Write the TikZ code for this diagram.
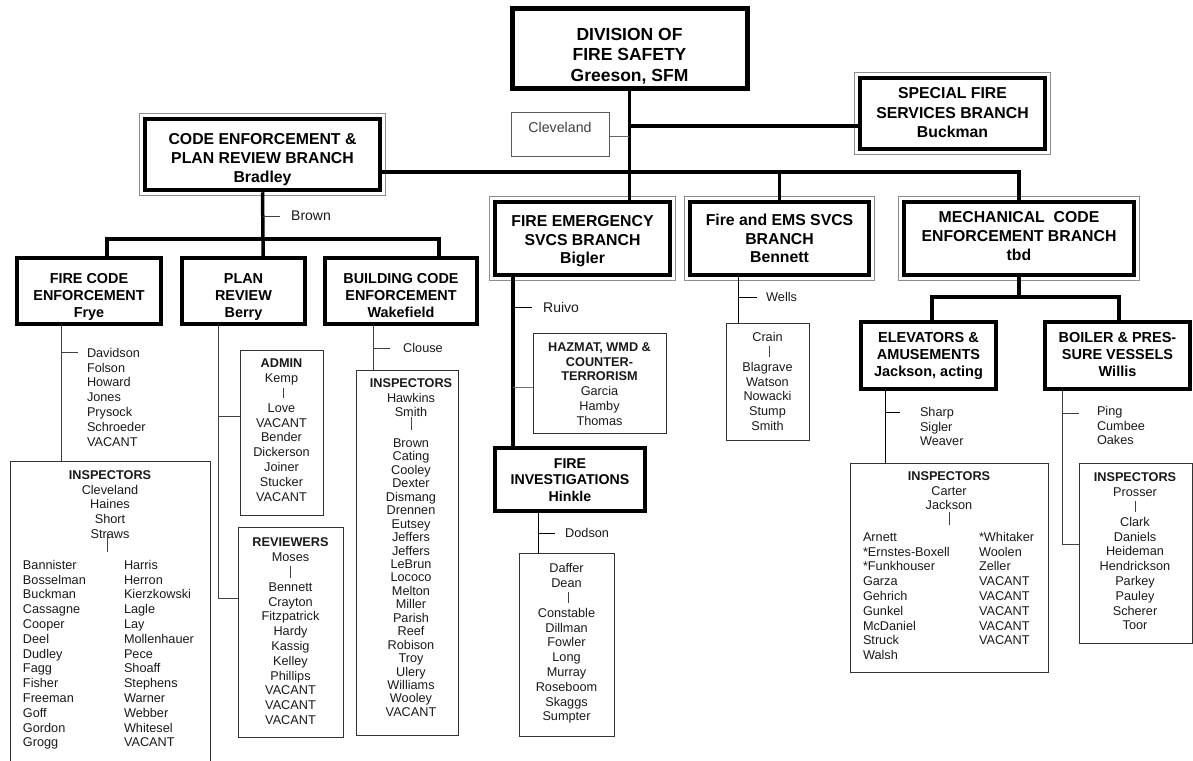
\documentclass[tikz,border=0pt]{standalone}
\usepackage{fontspec}
\setmainfont{Liberation Sans}
\usetikzlibrary{calc}
\newcommand\ctab[1]{\begin{tabular}{@{}c@{}}#1\end{tabular}}
\newcommand\ltab[1]{\begin{tabular}{@{}l@{}}#1\end{tabular}}
\newcommand\nmfont{\fontsize{12.7}{14.8}\selectfont}
\newcommand\brfont{\fontsize{15.8}{19}\selectfont\bfseries}
\newcommand\sbfont{\fontsize{14.4}{17}\selectfont\bfseries}
\newcommand\dblframe[1]{\draw[draw=black!45, line width=1.2pt] ([shift={(-3pt,3pt)}]#1.north west) rectangle ([shift={(3pt,-3pt)}]#1.south east);}
\tikzset{
  bx/.style={draw=black, line width=4.5pt, inner sep=0pt},
  tb/.style={draw=black!80, line width=1pt, inner sep=0pt},
  conn/.style={draw=black, line width=3.5pt},
  tc/.style={draw=black!75, line width=1pt},
  hd/.style={anchor=north, inner sep=0pt, outer sep=0pt, text=black},
  nm/.style={anchor=north, inner sep=0pt, outer sep=0pt, text=black!90, font=\nmfont},
  nml/.style={nm, anchor=north west},
  lbl/.style={anchor=west, inner sep=0pt, text=black!90, font=\nmfont},
}
\begin{document}
\begin{tikzpicture}[x=1pt,y=-1pt]
\useasboundingbox (0,0) rectangle (1193,760);

% ---------- boxes ----------
\node[bx, line width=5pt, minimum width=235pt, minimum height=79pt] (div) at (629.5,48.5) {};
\node[tb, draw=black!65, minimum width=98pt, minimum height=44pt] (cleve) at (560,134) {};
\node[bx, minimum width=185pt, minimum height=71pt] (spec) at (952.5,113.5) {};
\node[bx, minimum width=235pt, minimum height=71pt] (code) at (262.5,154.5) {};
\node[bx, minimum width=175pt, minimum height=73pt] (femerg) at (582.5,238.5) {};
\node[bx, minimum width=179pt, minimum height=73pt] (ems) at (779.5,238.5) {};
\node[bx, minimum width=230pt, minimum height=73pt] (mech) at (1019,238.5) {};
\dblframe{spec}
\dblframe{code}
\dblframe{femerg}
\dblframe{ems}
\dblframe{mech}

\node[bx, minimum width=144pt, minimum height=66pt] (fc) at (89,291) {};
\node[bx, minimum width=123pt, minimum height=66pt] (pr) at (243.5,291) {};
\node[bx, minimum width=152pt, minimum height=66pt] (bc) at (401,291) {};
\node[bx, minimum width=150pt, minimum height=63pt] (finv) at (570,479.5) {};
\node[bx, minimum width=135pt, minimum height=67pt] (elev) at (928.5,355.5) {};
\node[bx, minimum width=145pt, minimum height=67pt] (boil) at (1117.5,355.5) {};

\node[tb, minimum width=200pt, minimum height=314pt] (fcinsp) at (110,618) {};
\node[tb, minimum width=83pt, minimum height=165pt] (admin) at (281.5,432.5) {};
\node[tb, minimum width=105pt, minimum height=210pt] (rev) at (290.5,632) {};
\node[tb, minimum width=102pt, minimum height=365pt] (binsp) at (407,552.5) {};
\node[tb, minimum width=133pt, minimum height=100pt] (hazmat) at (599.5,383) {};
\node[tb, minimum width=95pt, minimum height=183pt] (dod) at (566.5,644.5) {};
\node[tb, minimum width=83pt, minimum height=117pt] (crain) at (767.5,381.5) {};
\node[tb, minimum width=198pt, minimum height=209pt] (elinsp) at (949,567.5) {};
\node[tb, minimum width=113pt, minimum height=180pt] (boinsp) at (1135.5,553) {};

% ---------- box titles ----------
\node[hd, font=\fontsize{17.5}{20.5}\selectfont\bfseries] (divt) at (629.5,26) {\ctab{DIVISION OF\\FIRE SAFETY\\Greeson, SFM}};
\node[hd, text=black!75, font=\fontsize{14.2}{17}\selectfont] (clevet) at (560,120.2) {\ctab{Cleveland}};
\node[hd, font=\fontsize{15.8}{19.5}\selectfont\bfseries] (spect) at (952.5,85) {\ctab{SPECIAL FIRE\\SERVICES BRANCH\\Buckman}};
\node[hd, font=\brfont] (codet) at (262.5,131.4) {\ctab{CODE ENFORCEMENT \&\\PLAN REVIEW BRANCH\\Bradley}};
\node[hd, font=\fontsize{15.8}{18.5}\selectfont\bfseries] (femergt) at (582.5,213.7) {\ctab{FIRE EMERGENCY\\SVCS BRANCH\\Bigler}};
\node[hd, font=\fontsize{15.8}{18.5}\selectfont\bfseries] (emst) at (779.5,212.7) {\ctab{Fire and EMS SVCS\\BRANCH\\Bennett}};
\node[hd, font=\brfont] (mecht) at (1019,209.4) {\ctab{MECHANICAL~~CODE\\ENFORCEMENT BRANCH\\tbd}};
\node[hd, font=\sbfont] (fct) at (89,271.3) {\ctab{FIRE CODE\\ENFORCEMENT\\Frye}};
\node[hd, font=\sbfont] (prt) at (243.5,271.3) {\ctab{PLAN\\REVIEW\\Berry}};
\node[hd, font=\sbfont] (bct) at (401,271.3) {\ctab{BUILDING CODE\\ENFORCEMENT\\Wakefield}};
\node[hd, font=\fontsize{14.2}{16.5}\selectfont\bfseries] (finvt) at (570,456.5) {\ctab{FIRE\\INVESTIGATIONS\\Hinkle}};
\node[hd, font=\fontsize{14.5}{17}\selectfont\bfseries] (elevt) at (928.5,330.3) {\ctab{ELEVATORS \&\\AMUSEMENTS\\Jackson, acting}};
\node[hd, font=\fontsize{14.5}{17}\selectfont\bfseries] (boilt) at (1117.5,330.3) {\ctab{BOILER \& PRES-\\SURE VESSELS\\Willis}};

% ---------- main connectors ----------
\coordinate (jmain) at (629,172);
\coordinate (jspec) at (629,126);
\coordinate (jcle) at (629,136);
\draw[conn] (div.south) -- (div.south |- femerg.north);
\draw[conn] (jspec) -- (spec.west |- jspec);
\draw[tc, draw=black!60] (cleve.east |- jcle) -- (jcle);
\draw[conn] (code.east |- jmain) -- (mech.north |- jmain) -- (mech.north);
\draw[conn] (ems.north |- jmain) -- (ems.north);

% code enforcement branch
\coordinate (jbrown) at (263,239);
\coordinate (jfc) at (107,239);
\coordinate (jbc) at (439,239);
\draw[conn] (code.south) -- (jbrown) -- (jbrown |- pr.north);
\draw[conn] (jfc |- fc.north) -- (jfc) -- (jbc) -- (jbc |- bc.north);
\node[lbl, font=\fontsize{14}{16}\selectfont] (brown) at (291,216) {Brown};
\coordinate (brownj) at (263,216);
\draw[tc, shorten >=11pt] (brownj) -- (brown.west);

% fire code enforcement
\coordinate (fcx) at (61,0);
\draw[tc] (fcx |- fc.south) -- (fcx |- fcinsp.north);
\node[nml] (fclist) at (87,347) {\ltab{Davidson\\Folson\\Howard\\Jones\\Prysock\\Schroeder\\VACANT}};
\coordinate (fcj) at (61,352);
\draw[tc] (fcj) -- ++(17,0);
\node[nm] (fchd) at (110,469) {\ctab{\textbf{INSPECTORS}\\Cleveland\\Haines\\Short\\Straws}};
\node[nml] (fcc1) at (23,559) {\ltab{Bannister\\Bosselman\\Buckman\\Cassagne\\Cooper\\Deel\\Dudley\\Fagg\\Fisher\\Freeman\\Goff\\Gordon\\Grogg}};
\node[nml] (fcc2) at (124,559) {\ltab{Harris\\Herron\\Kierzkowski\\Lagle\\Lay\\Mollenhauer\\Pece\\Shoaff\\Stephens\\Warner\\Webber\\Whitesel\\VACANT}};
\draw[tc, shorten <=-10pt, shorten >=7pt] ([xshift=-3pt]fchd.south) -- ([xshift=-3pt]fchd.south |- fcc1.north);

% plan review
\coordinate (prj1) at (218,416);
\coordinate (prj2) at (218,598);
\draw[tc] (prj1 |- pr.south) -- (prj2) -- (prj2 -| rev.west);
\draw[tc] (prj1) -- (prj1 -| admin.west);
\node[nm] (adhd) at (281.5,357) {\ctab{\textbf{ADMIN}\\Kemp}};
\node[nm] (adlist) at (281.5,402) {\ctab{Love\\VACANT\\Bender\\Dickerson\\Joiner\\Stucker\\VACANT}};
\draw[tc, shorten <=1.4pt, shorten >=4pt] ([xshift=1.5pt]adhd.south) -- ([xshift=1.5pt]adhd.south |- adlist.north);
\node[nm] (rvhd) at (290.5,536) {\ctab{\textbf{REVIEWERS}\\Moses}};
\node[nm] (rvlist) at (290.5,581) {\ctab{Bennett\\Crayton\\Fitzpatrick\\Hardy\\Kassig\\Kelley\\Phillips\\VACANT\\VACANT\\VACANT}};
\draw[tc, shorten <=0pt, shorten >=3pt] (rvhd.south) -- (rvhd.south |- rvlist.north);

% building code
\coordinate (bcx) at (373,0);
\draw[tc] (bcx |- bc.south) -- (bcx |- binsp.north);
\node[lbl] (clouse) at (403,348) {Clouse};
\coordinate (clj) at (373,348);
\draw[tc, shorten >=13pt] (clj) -- (clouse.west);
\node[nm] (bihd) at (411,377) {\ctab{\textbf{INSPECTORS}\\Hawkins\\Smith}};
\node[nm, font=\fontsize{12.7}{13.45}\selectfont] (bilist) at (411,438) {\ctab{Brown\\Cating\\Cooley\\Dexter\\Dismang\\Drennen\\Eutsey\\Jeffers\\Jeffers\\LeBrun\\Lococo\\Melton\\Miller\\Parish\\Reef\\Robison\\Troy\\Ulery\\Williams\\Wooley\\VACANT}};
\draw[tc, shorten <=-4.4pt, shorten >=8pt] (bihd.south) -- (bihd.south |- bilist.north);

% fire emergency
\coordinate (fex) at (513,0);
\draw[conn] (fex |- femerg.south) -- (fex |- finv.north);
\node[lbl, font=\fontsize{14}{16}\selectfont] (ruivo) at (543,307) {Ruivo};
\coordinate (ruj) at (513,307);
\draw[tc, draw=black, shorten >=11pt] (ruj) -- (ruivo.west);
\coordinate (hzj) at (513,387);
\draw[tc, draw=black!55] (hzj) -- (hzj -| hazmat.west);
\node[nm] (hztxt) at (599.5,341) {\ctab{\textbf{HAZMAT, WMD \&}\\\textbf{COUNTER-}\\\textbf{TERRORISM}\\Garcia\\Hamby\\Thomas}};

% fire investigations
\coordinate (dx) at (538,0);
\draw[tc, draw=black] (dx |- finv.south) -- (dx |- dod.north);
\node[lbl] (dodson) at (565,533) {Dodson};
\coordinate (doj) at (538,533);
\draw[tc, draw=black, shorten >=10pt] (doj) -- (dodson.west);
\node[nm] (dohd) at (566.5,562) {\ctab{Daffer\\Dean}};
\node[nm] (dolist) at (566.5,607) {\ctab{Constable\\Dillman\\Fowler\\Long\\Murray\\Roseboom\\Skaggs\\Sumpter}};
\draw[tc, shorten <=0pt, shorten >=4pt] ([xshift=1.5pt]dohd.south) -- ([xshift=1.5pt]dohd.south |- dolist.north);

% fire and EMS
\coordinate (ex) at (738,0);
\draw[tc, draw=black] (ex |- ems.south) -- (ex |- crain.north);
\node[lbl] (wells) at (766,297) {Wells};
\coordinate (wej) at (738,297);
\draw[tc, draw=black, shorten >=9pt] (wej) -- (wells.west);
\node[nm] (crhd) at (767.5,331) {\ctab{Crain}};
\node[nm] (crlist) at (767.5,361) {\ctab{Blagrave\\Watson\\Nowacki\\Stump\\Smith}};
\draw[tc, shorten <=0pt, shorten >=4pt] ([xshift=1.5pt]crhd.south) -- ([xshift=1.5pt]crhd.south |- crlist.north);

% mechanical
\coordinate (jmech) at (1019,297);
\coordinate (jel) at (932,297);
\coordinate (jbo) at (1119,297);
\draw[conn] (mech.south) -- (jmech);
\draw[conn] (jel |- elev.north) -- (jel) -- (jbo) -- (jbo |- boil.north);

% elevators
\coordinate (elx) at (885,0);
\draw[tc, draw=black] (elx |- elev.south) -- (elx |- elinsp.north);
\node[nml] (sharp) at (920,406) {\ltab{Sharp\\Sigler\\Weaver}};
\coordinate (shj) at (885,412);
\draw[tc, draw=black] (shj) -- ++(15,0);
\node[nm] (elhd) at (949,470) {\ctab{\textbf{INSPECTORS}\\Carter\\Jackson}};
\node[nml] (elc1) at (863,531) {\ltab{Arnett\\{}*Ernstes-Boxell\\{}*Funkhouser\\Garza\\Gehrich\\Gunkel\\McDaniel\\Struck\\Walsh}};
\node[nml] (elc2) at (979,531) {\ltab{{}*Whitaker\\Woolen\\Zeller\\VACANT\\VACANT\\VACANT\\VACANT\\VACANT}};
\draw[tc, shorten <=-2.4pt, shorten >=6pt] (elhd.south) -- (elhd.south |- elc1.north);

% boiler
\coordinate (bx) at (1062,0);
\coordinate (boj) at (1062,544);
\draw[tc] (bx |- boil.south) -- (boj) -- (boj -| boinsp.west);
\node[nml] (ping) at (1097,405) {\ltab{Ping\\Cumbee\\Oakes}};
\coordinate (pij) at (1062,413);
\draw[tc] (pij) -- ++(17,0);
\node[nm] (bohd) at (1135,471) {\ctab{\textbf{INSPECTORS}\\Prosser}};
\node[nm] (bolist) at (1135,516) {\ctab{Clark\\Daniels\\Heideman\\Hendrickson\\Parkey\\Pauley\\Scherer\\Toor}};
\draw[tc, shorten <=0.6pt, shorten >=4pt] (bohd.south) -- (bohd.south |- bolist.north);
\end{tikzpicture}
\end{document}
